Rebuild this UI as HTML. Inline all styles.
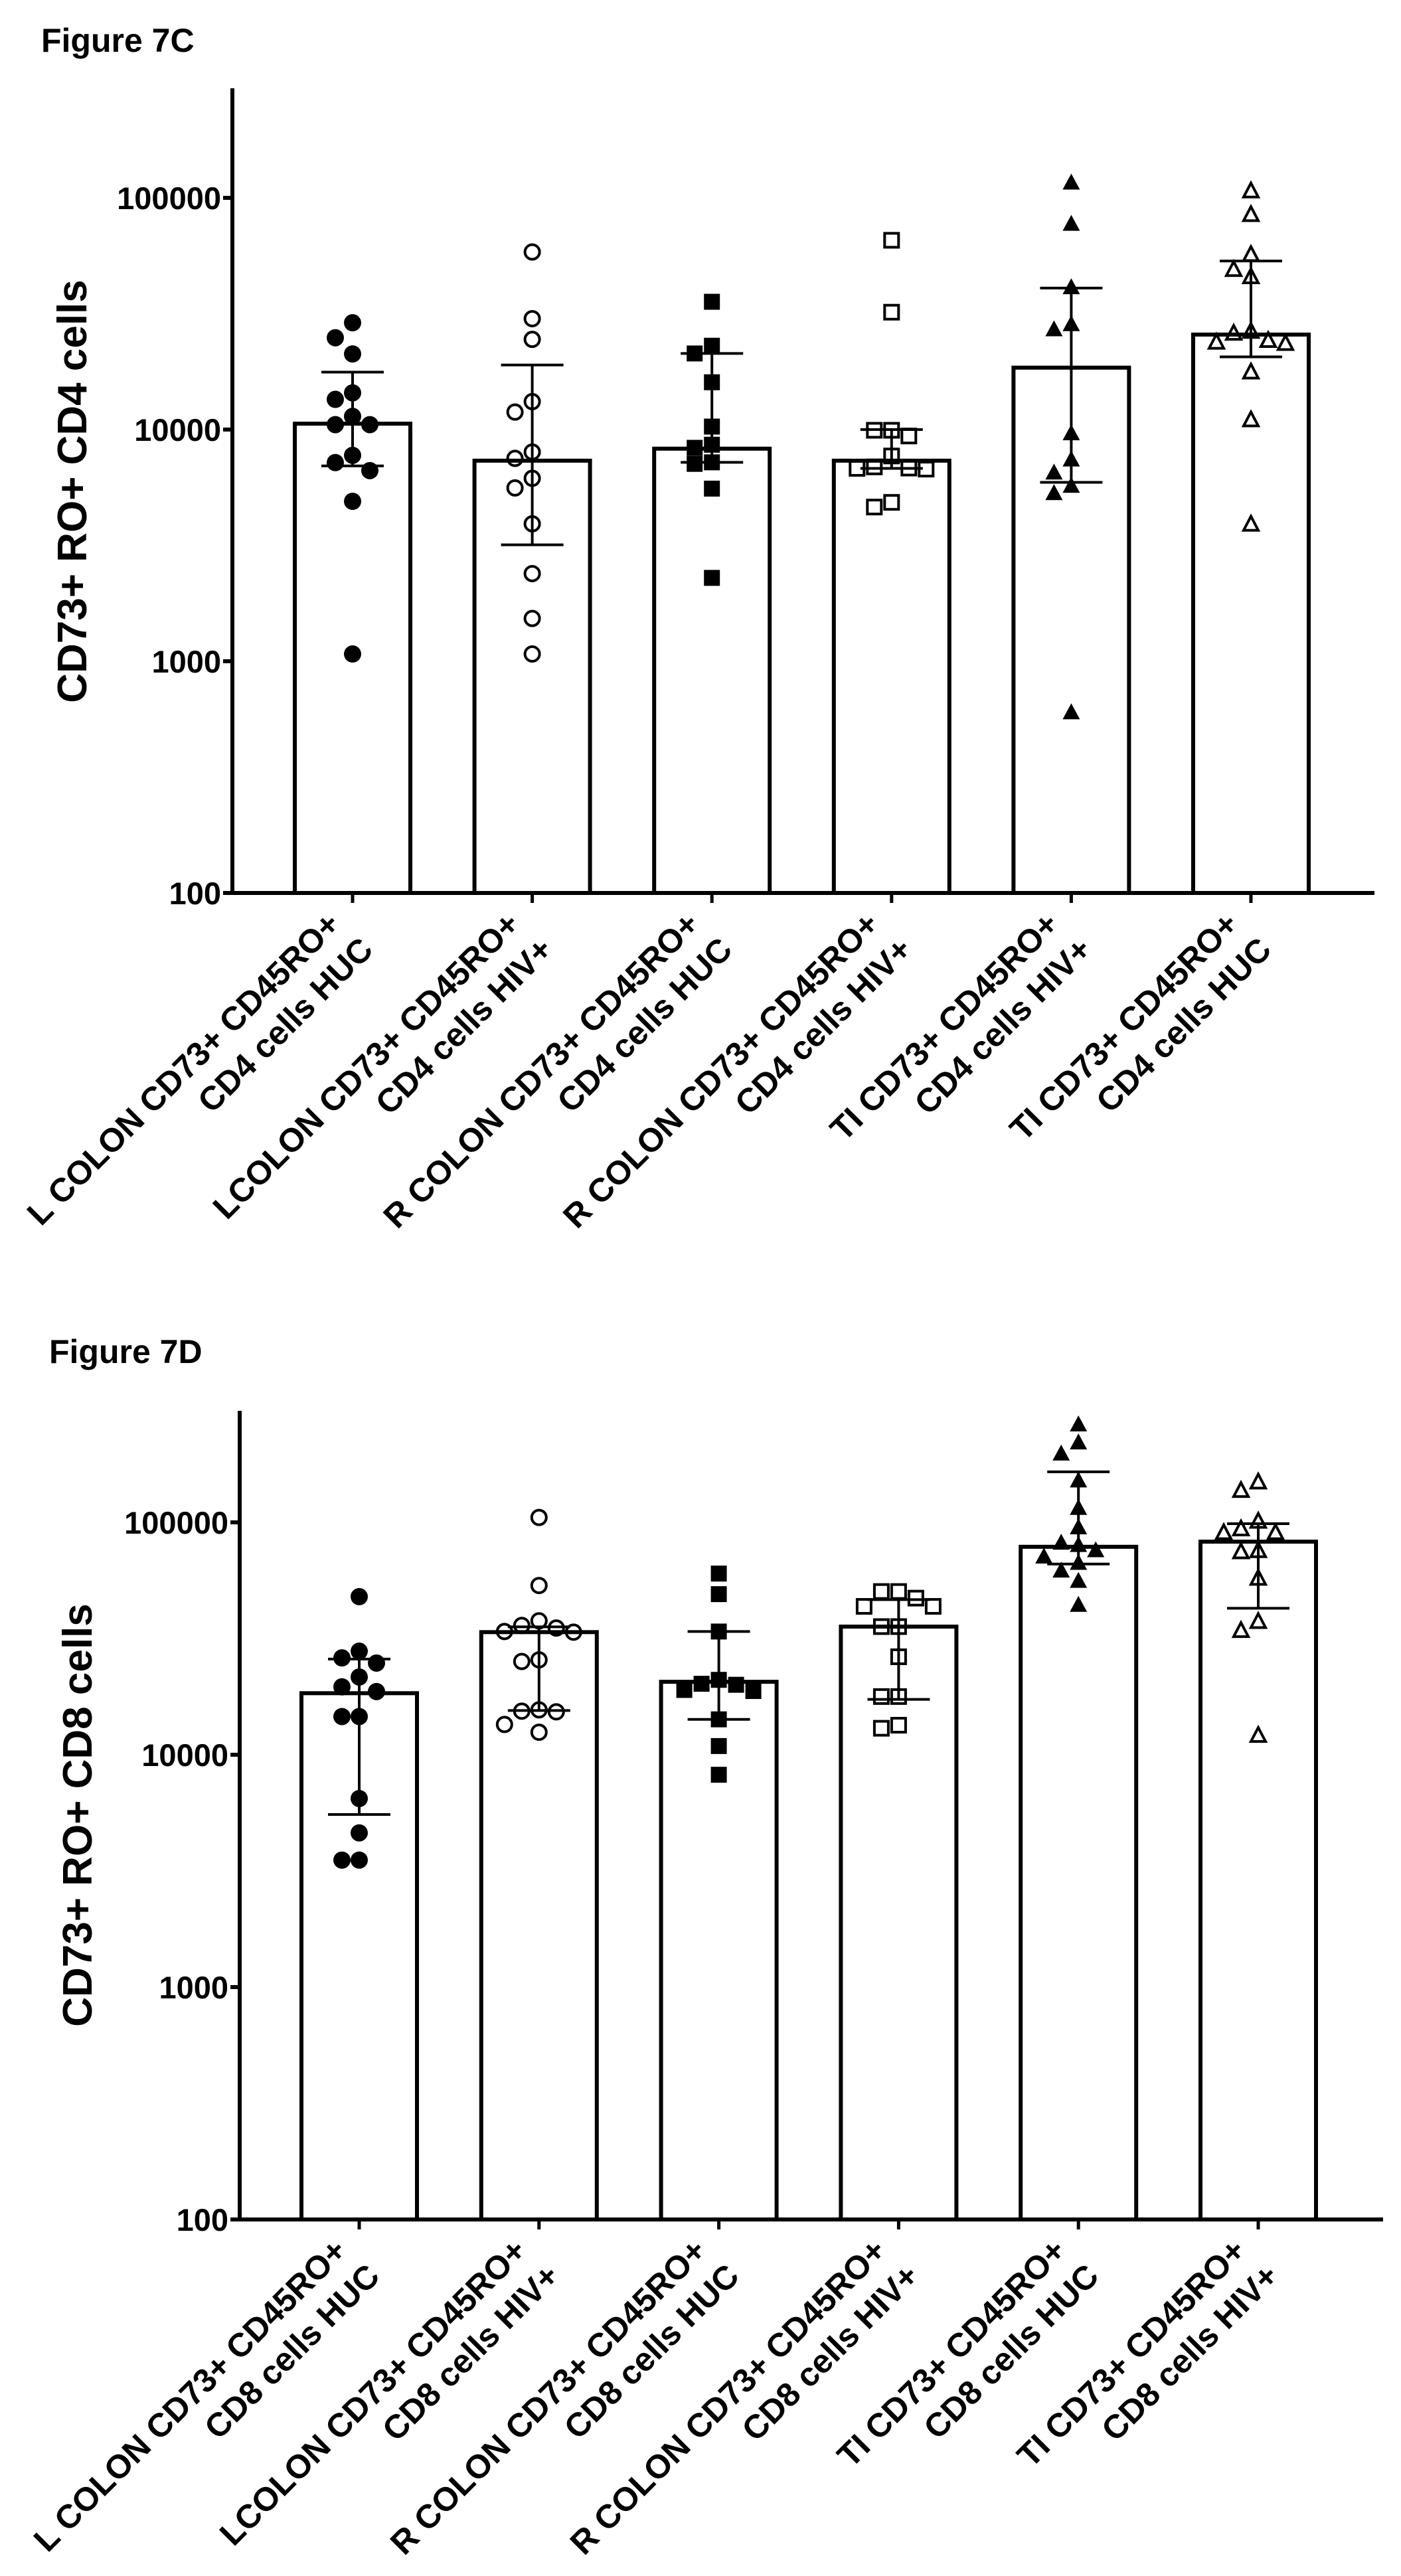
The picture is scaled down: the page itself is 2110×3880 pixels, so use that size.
<!DOCTYPE html>
<html><head><meta charset="utf-8"><title>Figure 7C / 7D</title>
<style>html,body{margin:0;padding:0;background:#fff;}svg{display:block;}text{font-family:"Liberation Sans",Arial,sans-serif;fill:#000;}</style>
</head><body>
<svg id="fig" xmlns="http://www.w3.org/2000/svg" width="2110" height="3880" viewBox="0 0 2110 3880">
<rect x="0" y="0" width="2110" height="3880" fill="#fff"/>
<text x="62" y="78" font-size="50" font-weight="bold">Figure 7C</text>
<text x="74" y="2053" font-size="50" font-weight="bold">Figure 7D</text>
<text transform="translate(130,740) rotate(-90)" text-anchor="middle" font-size="62" font-weight="bold">CD73+ RO+ CD4 cells</text>
<text transform="translate(138,2734) rotate(-90)" text-anchor="middle" font-size="62" font-weight="bold">CD73+ RO+ CD8 cells</text>
<g id="chartC"></g>
<g id="chartD"></g>
</svg>
<script>
// ---------- data ----------
const tickValues = [100, 1000, 10000, 100000];
const tickLabels = ["100", "1000", "10000", "100000"];
const markerTypes = ["circle-filled","circle-open","square-filled","square-open","triangle-filled","triangle-open"];

const catLine1C = ["L COLON CD73+ CD45RO+","LCOLON CD73+ CD45RO+","R COLON CD73+ CD45RO+","R COLON CD73+ CD45RO+","TI CD73+ CD45RO+","TI CD73+ CD45RO+"];
const catLine2C = ["CD4 cells HUC","CD4 cells HIV+","CD4 cells HUC","CD4 cells HIV+","CD4 cells HIV+","CD4 cells HUC"];
const barC = [10600, 7340, 8270, 7340, 18500, 25700];
const errHiC = [17700, 19000, 21300, 10000, 40800, 53400];
const errLoC = [6970, 3180, 7220, 6800, 5920, 20600];
const ptsC1 = [28900, 24900, 21200, 14400, 13500, 11400, 10500, 10500, 7740, 7200, 6650, 4900, 1075];
const ptsC2 = [58400, 30100, 24500, 13200, 11900, 8000, 7510, 6160, 5600, 3920, 2390, 1530, 1075];
const ptsC3 = [35600, 23000, 21300, 16000, 10300, 8600, 8340, 7220, 7110, 5560, 2290];
const ptsC4 = [65600, 32100, 9930, 9930, 9380, 7690, 6900, 6820, 6800, 6750, 4850, 4630];
const ptsC5 = [116000, 77000, 41000, 28400, 27000, 9600, 7400, 6500, 5700, 5300, 600];
const ptsC6 = [107000, 84600, 56900, 49000, 45600, 26500, 26000, 24200, 23800, 23500, 17700, 11000, 3900];

const catLine1D = ["L COLON CD73+ CD45RO+","LCOLON CD73+ CD45RO+","R COLON CD73+ CD45RO+","R COLON CD73+ CD45RO+","TI CD73+ CD45RO+","TI CD73+ CD45RO+"];
const catLine2D = ["CD8 cells HUC","CD8 cells HIV+","CD8 cells HUC","CD8 cells HIV+","CD8 cells HUC","CD8 cells HIV+"];
const barD = [18400, 33700, 20600, 35600, 78500, 82600];
const errHiD = [25800, 35500, 33900, 46500, 165000, 98700];
const errLoD = [5530, 15500, 14200, 17300, 66200, 42700];
const ptsD1 = [47900, 27900, 26100, 24800, 21600, 19600, 18700, 14600, 14600, 6480, 4610, 3520, 3520];
const ptsD2 = [105000, 53500, 37700, 36000, 35100, 33900, 33700, 25600, 25200, 15600, 15400, 15300, 13500, 12500];
const ptsD3 = [60200, 49100, 33900, 21000, 20200, 20000, 19000, 18800, 14200, 10900, 8200];
const ptsD4 = [50400, 50400, 47200, 43500, 43500, 35600, 35600, 26400, 17800, 17800, 13400, 13000];
const ptsD5 = [263000, 220000, 197000, 151000, 115000, 94900, 81500, 79600, 75600, 71000, 66700, 61800, 55800, 44000];
const ptsD6 = [149000, 137000, 101000, 93600, 90200, 90200, 75500, 74600, 57400, 37400, 34200, 12100];

const NS = "http://www.w3.org/2000/svg";
function mk(parent, tag, attrs) {
  const e = document.createElementNS(NS, tag);
  for (const k in attrs) e.setAttribute(k, attrs[k]);
  parent.appendChild(e);
  return e;
}

function drawChart(g, cfg, l1, l2, bars, hi, lo, groups) {
  const yOf = v => cfg.y100 - (Math.log10(v) - 2) * cfg.decade;
  const xOf = i => cfg.x0 + i * cfg.step;
  const barW = 174, capW = 94, mStep = 26;

  // bars
  bars.forEach((v, i) => {
    const r = mk(g, "rect", {x: xOf(i) - barW / 2, y: yOf(v), width: barW, height: cfg.y100 - yOf(v), fill: "#fff", stroke: "#000", "stroke-width": 6});
    
    
  });
  // error bars
  bars.forEach((v, i) => {
    const x = xOf(i);
    const eg = mk(g, "g", {stroke: "#000", "stroke-width": 4});
    
    
    mk(eg, "line", {x1: x, x2: x, y1: yOf(hi[i]), y2: yOf(lo[i])});
    mk(eg, "line", {x1: x - capW / 2, x2: x + capW / 2, y1: yOf(hi[i]), y2: yOf(hi[i])});
    mk(eg, "line", {x1: x - capW / 2, x2: x + capW / 2, y1: yOf(lo[i]), y2: yOf(lo[i])});
  });
  // points (beeswarm)
  groups.forEach((vals, i) => {
    const cx0 = xOf(i);
    const placed = [];
    const pg = mk(g, "g", {});
    
    
    const order = vals.slice().sort((a, b) => b - a);
    order.forEach(v => {
      const y = yOf(v);
      let x = cx0;
      for (let k = 0; k < 12; k++) {
        const off = k === 0 ? 0 : (k % 2 ? -Math.ceil(k / 2) : Math.ceil(k / 2));
        const cx = cx0 + off * mStep;
        if (!placed.some(p => (p[0] - cx) ** 2 + (p[1] - y) ** 2 < 24 * 24)) { x = cx; break; }
      }
      placed.push([x, y]);
      const t = markerTypes[i];
      let m;
      if (t === "circle-filled") m = mk(pg, "circle", {cx: x, cy: y, r: 13, fill: "#000"});
      else if (t === "circle-open") m = mk(pg, "circle", {cx: x, cy: y, r: 11, fill: "none", stroke: "#000", "stroke-width": 4});
      else if (t === "square-filled") m = mk(pg, "rect", {x: x - 12, y: y - 12, width: 24, height: 24, fill: "#000"});
      else if (t === "square-open") m = mk(pg, "rect", {x: x - 10.5, y: y - 10.5, width: 21, height: 21, fill: "none", stroke: "#000", "stroke-width": 4});
      else if (t === "triangle-filled") m = mk(pg, "polygon", {points: `${x},${y - 14} ${x + 13},${y + 10} ${x - 13},${y + 10}`, fill: "#000"});
      else m = mk(pg, "polygon", {points: `${x},${y - 12} ${x + 11},${y + 9} ${x - 11},${y + 9}`, fill: "none", stroke: "#000", "stroke-width": 4, "stroke-linejoin": "miter"});
      
      
    });
  });
  // axes
  const ax = mk(g, "g", {stroke: "#000", "stroke-width": 6});
  
  
  mk(ax, "line", {x1: cfg.axisX, x2: cfg.axisX, y1: cfg.top, y2: cfg.y100 + 3});
  mk(ax, "line", {x1: cfg.axisX - 3, x2: cfg.xEnd, y1: cfg.y100, y2: cfg.y100});
  tickValues.forEach((v, j) => {
    const y = yOf(v);
    mk(ax, "line", {x1: cfg.axisX - 14, x2: cfg.axisX, y1: y, y2: y});
    const t = mk(g, "text", {x: cfg.axisX - 17, y: y + 17, "text-anchor": "end", "font-size": 47, "font-weight": "bold"});
    t.textContent = tickLabels[j];
    
    
  });
  l1.forEach((s, i) => {
    const x = xOf(i);
    mk(ax, "line", {x1: x, x2: x, y1: cfg.y100, y2: cfg.y100 + 15, "stroke-width": 5});
    const t = mk(g, "text", {transform: `translate(${x - 16},${cfg.y100 + 50}) rotate(-45)`, "text-anchor": "end", "font-size": 50, "font-weight": "bold"});
    
    
    const a = mk(t, "tspan", {x: 0, y: 0}); a.textContent = s;
    const b = mk(t, "tspan", {x: 8, y: 62}); b.textContent = l2[i];
  });
}

drawChart(document.getElementById("chartC"),
  {y100: 1345, decade: 349, x0: 531, step: 270.6, axisX: 350, xEnd: 2070, top: 133},
  catLine1C, catLine2C, barC, errHiC, errLoC, [ptsC1, ptsC2, ptsC3, ptsC4, ptsC5, ptsC6]);
drawChart(document.getElementById("chartD"),
  {y100: 3343, decade: 350, x0: 541, step: 270.8, axisX: 361, xEnd: 2083, top: 2125},
  catLine1D, catLine2D, barD, errHiD, errLoD, [ptsD1, ptsD2, ptsD3, ptsD4, ptsD5, ptsD6]);
</script>
</body></html>
